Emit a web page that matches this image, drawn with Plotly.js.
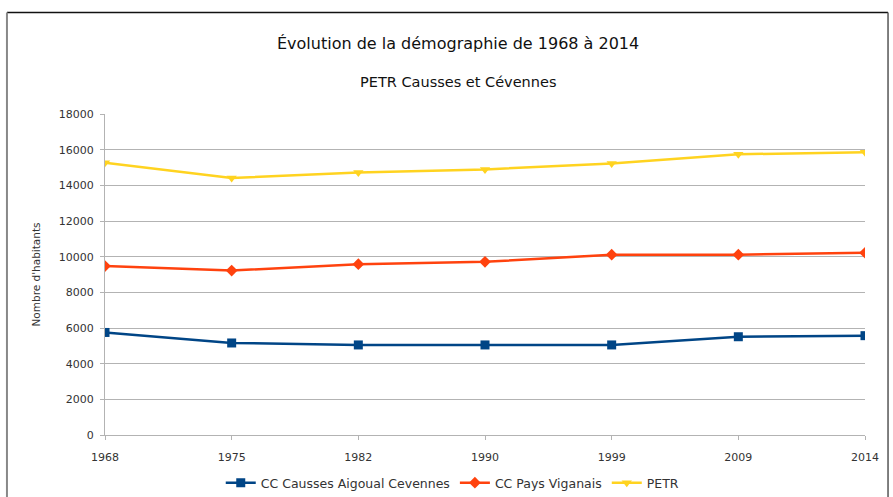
<!DOCTYPE html>
<html>
<head>
<meta charset="utf-8">
<script src="https://cdn.plot.ly/plotly-3.0.1.min.js"></script>
<style>
  html, body { margin: 0; padding: 0; background: #ffffff; }
  #chart { width: 893px; height: 497px; }
</style>
</head>
<body>
<div id="chart"></div>
<script>
// ---- data ----
const years = ["1968", "1975", "1982", "1990", "1999", "2009", "2014"];
const caussesAigoual = [5750, 5160, 5050, 5050, 5050, 5510, 5570];
const paysViganais   = [9470, 9220, 9580, 9710, 10110, 10110, 10220];
const petr           = [15260, 14410, 14720, 14890, 15230, 15740, 15860];
const seriesNames = ["CC Causses Aigoual Cevennes", "CC Pays Viganais", "PETR"];
const titleText = "Évolution de la démographie de 1968 à 2014";
const subtitleText = "PETR Causses et Cévennes";
const yTitle = "Nombre d'habitants";

const FONT = "DejaVu Sans, Liberation Sans, sans-serif";
const TXT = "#333333";

const traces = [
  {
    x: years, y: caussesAigoual, name: seriesNames[0], type: "scatter", mode: "lines+markers",
    line: { color: "#004586", width: 2.5 },
    marker: { color: "#004586", symbol: "square", size: 9 }
  },
  {
    x: years, y: paysViganais, name: seriesNames[1], type: "scatter", mode: "lines+markers",
    line: { color: "#ff420e", width: 2.5 },
    marker: { color: "#ff420e", symbol: "diamond", size: 9 }
  },
  {
    x: years, y: petr, name: seriesNames[2], type: "scatter", mode: "lines+markers",
    line: { color: "#ffd320", width: 2.5 },
    marker: { color: "#ffd320", symbol: "triangle-down", size: 9 }
  }
];

const layout = {
  width: 893, height: 497,
  margin: { l: 105, r: 28, t: 114, b: 62, pad: 0, autoexpand: false },
  paper_bgcolor: "#ffffff", plot_bgcolor: "#ffffff",
  font: { family: FONT, size: 11, color: TXT },
  showlegend: true,
  legend: {
    orientation: "h", xref: "container", yref: "container",
    x: 0.507, xanchor: "center", y: 0.028, yanchor: "middle",
    font: { family: FONT, size: 12.5, color: TXT },
    itemwidth: 30, traceorder: "normal", bgcolor: "rgba(0,0,0,0)"
  },
  xaxis: {
    type: "category", range: [0, 6],
    showgrid: false, zeroline: false,
    showline: true, linecolor: "#b3b3b3", linewidth: 1,
    ticks: "outside", ticklen: 4, tickcolor: "#b3b3b3",
    ticklabelstandoff: 8,
    tickfont: { family: FONT, size: 11, color: TXT },
    fixedrange: true
  },
  yaxis: {
    range: [0, 18000], dtick: 2000, tick0: 0, tickformat: "d",
    showgrid: true, gridcolor: "#b3b3b3", gridwidth: 1,
    zeroline: false, showline: true, linecolor: "#b3b3b3", linewidth: 1,
    ticks: "outside", ticklen: 4, tickcolor: "#b3b3b3",
    ticklabelstandoff: 4,
    tickfont: { family: FONT, size: 11, color: TXT },
    title: { text: yTitle, font: { family: FONT, size: 10.5, color: TXT }, standoff: 16 },
    fixedrange: true
  },
  annotations: [
    { text: titleText, xref: "paper", yref: "paper", x: 0.4645, y: 1.221,
      xanchor: "center", yanchor: "middle", showarrow: false,
      font: { family: FONT, size: 16, color: "#111111" } },
    { text: subtitleText, xref: "paper", yref: "paper", x: 0.4645, y: 1.0997,
      xanchor: "center", yanchor: "middle", showarrow: false,
      font: { family: FONT, size: 14.5, color: "#111111" } }
  ],
  shapes: [
    { type: "line", xref: "paper", yref: "paper", x0: -0.129, x1: 1.0303, y0: 1.316, y1: 1.316,
      line: { color: "#111111", width: 1.5 } },
    { type: "line", xref: "paper", yref: "paper", x0: -0.129, x1: -0.129, y0: 1.316, y1: -0.25,
      line: { color: "#888888", width: 2 } },
    { type: "line", xref: "paper", yref: "paper", x0: 1.0303, x1: 1.0303, y0: 1.316, y1: -0.25,
      line: { color: "#555555", width: 1.5 } }
  ]
};

Plotly.newPlot("chart", traces, layout, { displayModeBar: false, staticPlot: true });
</script>
</body>
</html>
